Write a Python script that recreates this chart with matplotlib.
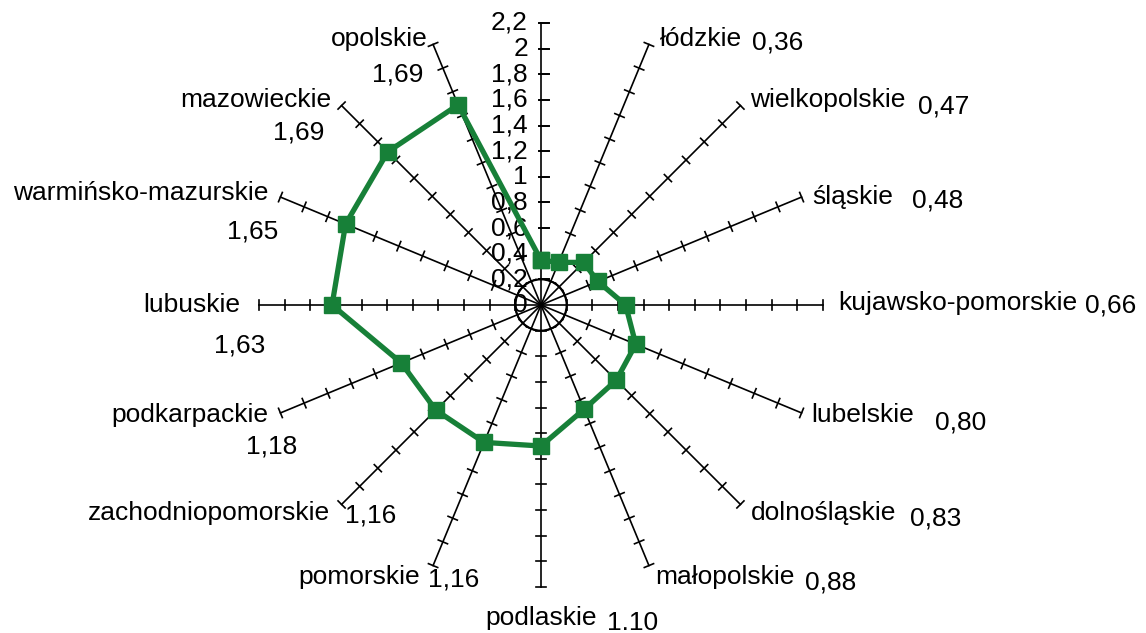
import numpy as np
import matplotlib
matplotlib.use('Agg')
import matplotlib.pyplot as plt
from matplotlib.patches import Circle

plt.rcParams['font.family'] = ['Liberation Sans', 'DejaVu Sans']

# dane: wojewodztwa (zgodnie z ruchem wskazowek zegara, od gory)
categories = ['świętokrzyskie', 'łódzkie', 'wielkopolskie', 'śląskie', 'kujawsko-pomorskie',
              'lubelskie', 'dolnośląskie', 'małopolskie', 'podlaskie', 'pomorskie',
              'zachodniopomorskie', 'podkarpackie', 'lubuskie', 'warmińsko-mazurskie',
              'mazowieckie', 'opolskie']
values = [0.35, 0.36, 0.47, 0.48, 0.66, 0.80, 0.83, 0.88, 1.10, 1.16,
          1.16, 1.18, 1.63, 1.65, 1.69, 1.69]
value_labels = ['', '0,36', '0,47', '0,48', '0,66', '0,80', '0,83', '0,88', '1.10', '1,16',
                '1,16', '1,18', '1,63', '1,65', '1,69', '1,69']
axis_ticks = [0, 0.2, 0.4, 0.6, 0.8, 1.0, 1.2, 1.4, 1.6, 1.8, 2.0, 2.2]
axis_tick_labels = ['0', '0,2', '0,4', '0,6', '0,8', '1', '1,2', '1,4', '1,6', '1,8', '2', '2,2']

# uklad etykiet: przesuniecia w pikselach od konca osi (dx, dy w dol)
label_layout = [
    None,
    ((11, -5, 'left'), (103, -2, 'left')),
    ((10, -6, 'left'), (178, 1, 'left')),
    ((11, 0, 'left'), (110, 3, 'left')),
    ((15, -2, 'left'), (262, 0, 'left')),
    ((10, 2, 'left'), (133, 10, 'left')),
    ((10, 9, 'left'), (170, 14, 'left')),
    ((6, 11, 'left'), (156, 17, 'left')),
    ((0, 31, 'center'), (66, 36, 'left')),
    ((-13, 11, 'right'), (-5, 14, 'left')),
    ((-12, 9, 'right'), (3, 11, 'left')),
    ((-12, 2, 'right'), (17, 34, 'right')),
    ((-19, 0, 'right'), (6, 40, 'right')),
    ((-12, -4, 'right'), (-2, 34, 'right')),
    ((-10, -6, 'right'), (-17, 27, 'right')),
    ((-5, -5, 'right'), (-10, 30, 'right')),
]

W, H = 1146, 633
S = 128.2            # pikseli na jednostke
cx, cy = 541, 305    # srodek wykresu (piksele od gory)
rmax = 2.2
green = '#178038'
fs = 19

fig = plt.figure(figsize=(W / 100, H / 100), dpi=100)
ax = fig.add_axes([0, 0, 1, 1])
ax.set_xlim(-cx / S, (W - cx) / S)
ax.set_ylim(-(H - cy) / S, cy / S)
ax.set_aspect('equal')
ax.axis('off')

n = len(categories)
angles = np.arange(n) * 2 * np.pi / n
tick_half = 5 / S

for i, a in enumerate(angles):
    ux, uy = np.sin(a), np.cos(a)
    ax.plot([0, rmax * ux], [0, rmax * uy], color='black', lw=1.2, zorder=2)
    px, py = uy, -ux  # kierunek prostopadly
    for t in axis_ticks[1:]:
        if i == 0:
            ax.plot([t * ux - 2 / S, t * ux + 8 / S], [t * uy, t * uy],
                    color='black', lw=1.4, zorder=2)
        else:
            ax.plot([t * ux - tick_half * px, t * ux + tick_half * px],
                    [t * uy - tick_half * py, t * uy + tick_half * py],
                    color='black', lw=1.2, zorder=2)

ax.add_patch(Circle((0, 0), 0.2, fill=False, color='black', lw=1.5, zorder=2))

for t, lab in zip(axis_ticks, axis_tick_labels):
    ax.text(-13 / S, t, lab, ha='right', va='center', fontsize=fs, zorder=3)

# etykiety kategorii
for i, a in enumerate(angles):
    if label_layout[i] is None:
        continue
    ex, ey = rmax * np.sin(a), rmax * np.cos(a)
    (ndx, ndy, nha), (vdx, vdy, vha) = label_layout[i]
    ax.text(ex + ndx / S, ey - ndy / S, categories[i], ha=nha, va='center', fontsize=fs)
    ax.text(ex + vdx / S, ey - vdy / S, value_labels[i], ha=vha, va='center', fontsize=fs)

# seria danych
vals = np.array(values + values[:1])
ang = np.append(angles, angles[0])
ax.plot(vals * np.sin(ang), vals * np.cos(ang), color=green, lw=3.8,
        marker='s', markersize=11.5, markeredgecolor=green, zorder=5)

fig.savefig('out.png', dpi=100)
